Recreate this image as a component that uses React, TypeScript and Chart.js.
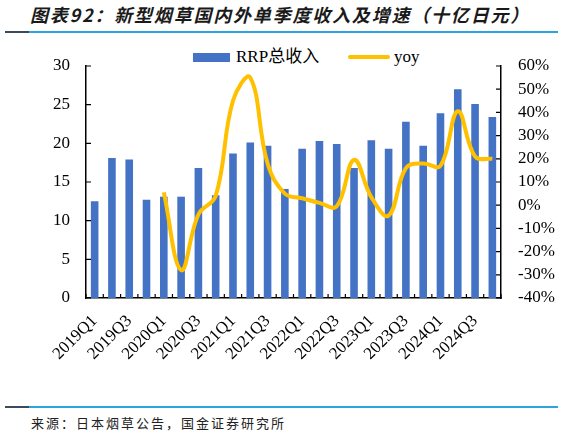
import React, { useEffect, useRef } from "react";
import { Chart, registerables } from "chart.js";

Chart.register(...registerables);

const categories = [
  "2019Q1", "2019Q2", "2019Q3", "2019Q4",
  "2020Q1", "2020Q2", "2020Q3", "2020Q4",
  "2021Q1", "2021Q2", "2021Q3", "2021Q4",
  "2022Q1", "2022Q2", "2022Q3", "2022Q4",
  "2023Q1", "2023Q2", "2023Q3", "2023Q4",
  "2024Q1", "2024Q2", "2024Q3", "2024Q4",
];

const rrpRevenue = [
  12.5, 18.1, 17.9, 12.7,
  13.1, 13.1, 16.8, 13.3,
  18.7, 20.1, 19.7, 14.1,
  19.3, 20.3, 19.9, 16.8,
  20.4, 19.3, 22.8, 19.7,
  23.9, 27.0, 25.1, 23.4,
];

const yoyPct: (number | null)[] = [
  null, null, null, null,
  5.5, -28, -4, 4,
  45, 55, 18, 5,
  3, 1, -0.5, 19.5,
  3.5, -4.5, 16, 18,
  17, 40.5, 21, 20,
];

const leftTicks = { min: 0, max: 30, step: 5 };
const rightTicks = { min: -40, max: 60, step: 10 };

const SERIF = "'Liberation Serif', 'Times New Roman', serif";
const CJK = "'Noto Sans CJK SC', sans-serif";
const BLUE = "#4472C4";
const GOLD = "#FFC000";

const innerTicks = {
  id: "innerTicks",
  afterDatasetsDraw(chart: any) {
    const { ctx, chartArea, scales } = chart;
    ctx.save();
    ctx.strokeStyle = "#000";
    ctx.lineWidth = 1.2;
    ctx.beginPath();
    const ly = scales.y;
    ly.ticks.forEach((t: any) => {
      const p = ly.getPixelForValue(t.value);
      ctx.moveTo(chartArea.left, p);
      ctx.lineTo(chartArea.left + 5, p);
    });
    const ry = scales.y1;
    ry.ticks.forEach((t: any) => {
      const p = ry.getPixelForValue(t.value);
      ctx.moveTo(chartArea.right, p);
      ctx.lineTo(chartArea.right - 5, p);
    });
    const x = scales.x;
    const n = categories.length;
    for (let i = 0; i <= n; i++) {
      const p = x.getPixelForDecimal(i / n);
      ctx.moveTo(p, chartArea.bottom);
      ctx.lineTo(p, chartArea.bottom - 4);
    }
    ctx.stroke();
    ctx.restore();
  },
};

export default function App() {
  const canvasRef = useRef<HTMLCanvasElement | null>(null);

  useEffect(() => {
    document.body.style.margin = "0";
    const canvas = canvasRef.current;
    if (!canvas) return;
    const chart = new Chart(canvas, {
      type: "bar",
      data: {
        labels: categories,
        datasets: [
          {
            type: "line",
            label: "yoy",
            data: yoyPct,
            yAxisID: "y1",
            borderColor: GOLD,
            backgroundColor: GOLD,
            borderWidth: 4,
            pointRadius: 0,
            tension: 0.4,
            spanGaps: false,
            order: 0,
          } as any,
          {
            type: "bar",
            label: "RRP总收入",
            data: rrpRevenue,
            yAxisID: "y",
            backgroundColor: BLUE,
            barPercentage: 0.44,
            categoryPercentage: 1,
            order: 1,
          },
        ],
      },
      options: {
        responsive: false,
        animation: false,
        maintainAspectRatio: false,
        layout: { padding: { top: 16, left: 0, right: 0, bottom: 0 } },
        plugins: {
          legend: { display: false },
          tooltip: { enabled: false },
          title: { display: false },
        },
        scales: {
          x: {
            type: "category",
            offset: true,
            grid: { display: false, drawTicks: false },
            border: { display: true, color: "#000", width: 1.5 },
            ticks: {
              autoSkip: false,
              maxRotation: 45,
              minRotation: 45,
              padding: 13,
              color: "#000",
              font: { family: SERIF, size: 17 },
              callback: (_v: any, i: number) => (i % 2 === 0 ? categories[i] : ""),
            },
            afterFit: (s: any) => {
              s.height = 82;
            },
          },
          y: {
            type: "linear",
            position: "left",
            min: leftTicks.min,
            max: leftTicks.max,
            grid: { display: false, drawTicks: true, tickLength: 16 },
            border: { display: true, color: "#000", width: 1.5 },
            ticks: {
              stepSize: leftTicks.step,
              autoSkip: false,
              padding: 0,
              color: "#000",
              font: { family: SERIF, size: 17 },
            },
            afterFit: (s: any) => {
              s.width = 86;
            },
          },
          y1: {
            type: "linear",
            position: "right",
            min: rightTicks.min,
            max: rightTicks.max,
            grid: { display: false, drawTicks: true, tickLength: 17 },
            border: { display: true, color: "#000", width: 1.5 },
            ticks: {
              stepSize: rightTicks.step,
              autoSkip: false,
              padding: 0,
              color: "#000",
              font: { family: SERIF, size: 17 },
              callback: (v: any) => `${v}%`,
            },
            afterFit: (s: any) => {
              s.width = 62;
            },
          },
        },
      },
      plugins: [innerTicks],
    });
    return () => chart.destroy();
  }, []);

  return (
    <div style={{ position: "relative", width: 563, height: 437, background: "#fff", overflow: "hidden" }}>
      <div
        style={{
          position: "absolute",
          left: 30,
          top: 2,
          fontFamily: CJK,
          fontWeight: 700,
          fontStyle: "italic",
          fontSize: 18,
          letterSpacing: 1.8,
          lineHeight: "24px",
          color: "#1a1a1a",
          whiteSpace: "nowrap",
        }}
      >
        图表92：新型烟草国内外单季度收入及增速（十亿日元）
      </div>
      <div style={{ position: "absolute", left: 5, top: 31, width: 553, height: 2, background: "#2BA5DE" }} />
      <div style={{ position: "absolute", left: 5, top: 31, width: 24, height: 2, background: "#3B4A5C" }} />

      <div style={{ position: "absolute", left: 193, top: 53, width: 37, height: 9, background: BLUE }} />
      <div
        style={{
          position: "absolute",
          left: 236,
          top: 46,
          lineHeight: "22px",
          fontSize: 17,
          fontFamily: SERIF + ", " + CJK,
          color: "#000",
          whiteSpace: "nowrap",
        }}
      >
        RRP总收入
      </div>
      <div style={{ position: "absolute", left: 348, top: 55, width: 42, height: 4, borderRadius: 2, background: GOLD }} />
      <div
        style={{
          position: "absolute",
          left: 394,
          top: 46,
          lineHeight: "22px",
          fontSize: 17,
          fontFamily: SERIF,
          color: "#000",
          whiteSpace: "nowrap",
        }}
      >
        yoy
      </div>

      <canvas
        ref={canvasRef}
        width={563}
        height={330}
        style={{ position: "absolute", left: 0, top: 50, width: 563, height: 330 }}
      />

      <div style={{ position: "absolute", left: 5, top: 406, width: 553, height: 2, background: "#2BA5DE" }} />
      <div style={{ position: "absolute", left: 5, top: 406, width: 24, height: 2, background: "#3B4A5C" }} />
      <div
        style={{
          position: "absolute",
          left: 31,
          top: 414,
          lineHeight: "18px",
          fontSize: 13,
          letterSpacing: 2.0,
          fontFamily: CJK,
          color: "#222",
          whiteSpace: "nowrap",
        }}
      >
        来源：日本烟草公告，国金证券研究所
      </div>
    </div>
  );
}
